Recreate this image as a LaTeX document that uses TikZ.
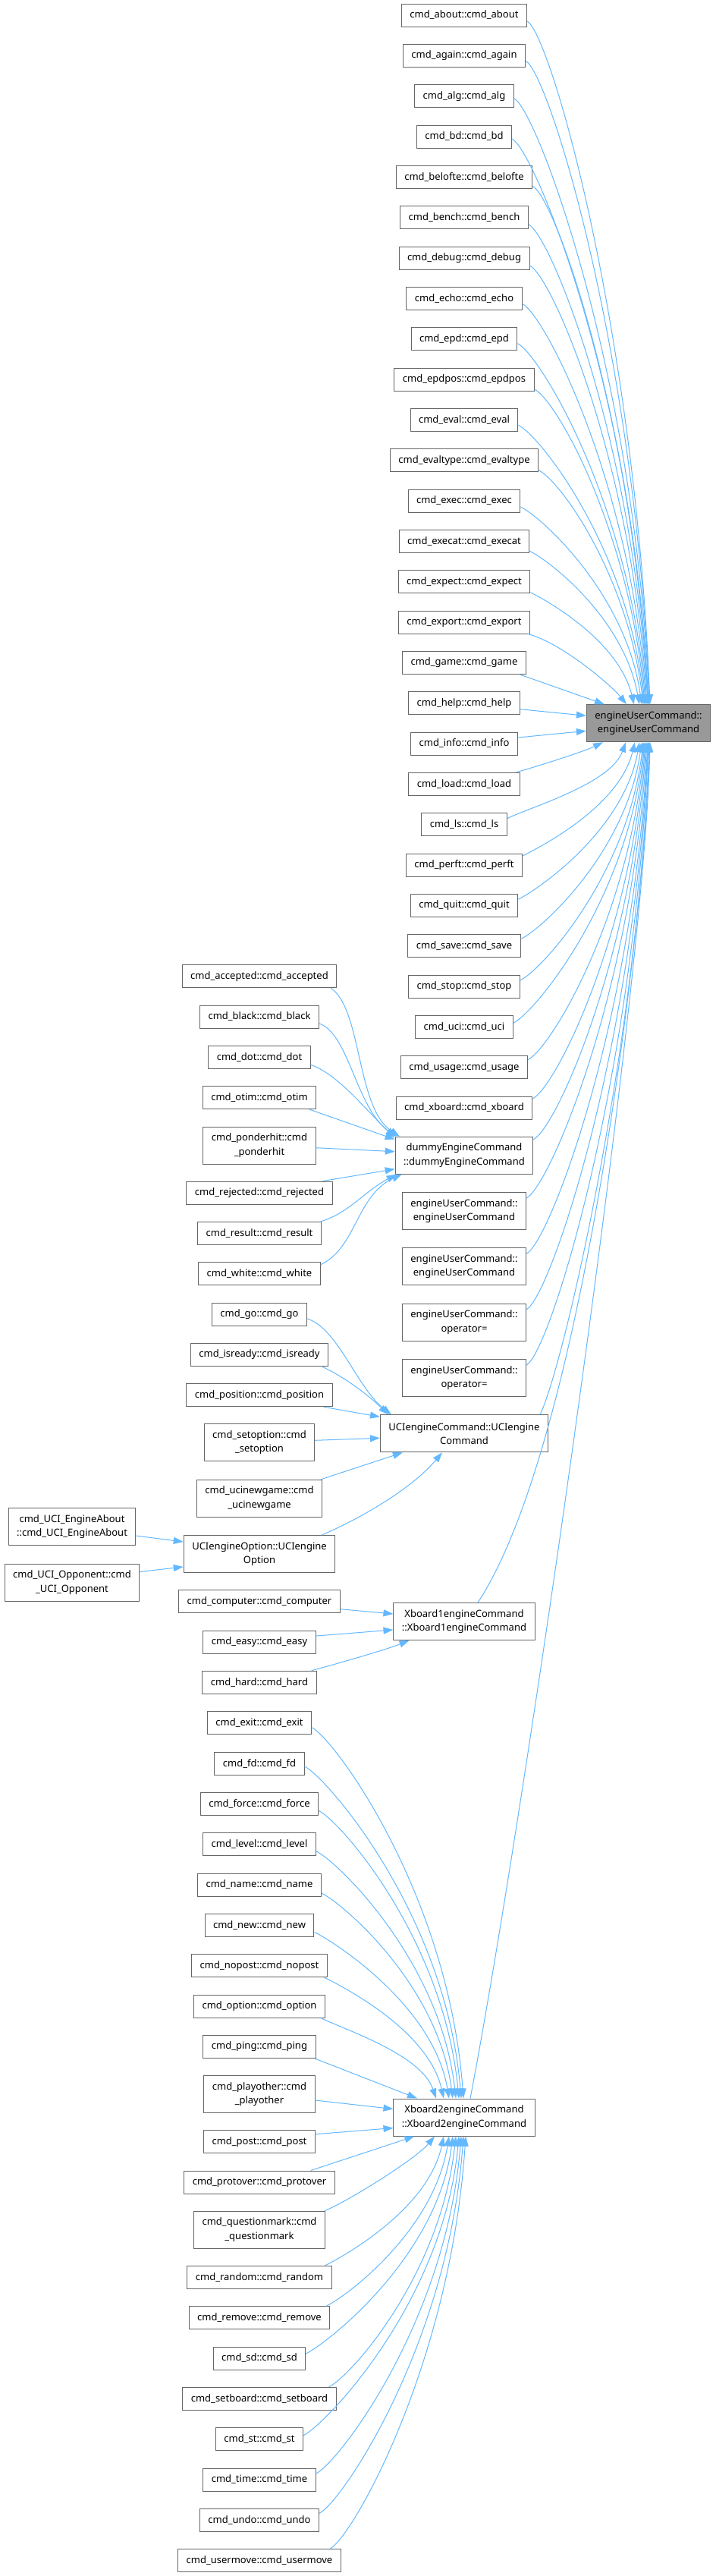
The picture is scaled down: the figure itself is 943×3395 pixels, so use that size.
\documentclass[tikz,border=0pt]{standalone}
\usepackage{fontspec}
\setmainfont{Noto Sans}
\usetikzlibrary{arrows.meta}
\definecolor{cedge}{HTML}{63B8FF}
\definecolor{cborder}{HTML}{666666}
\definecolor{croot}{HTML}{999999}
\tikzset{
  box/.style={draw=cborder, line width=1pt, fill=white, inner xsep=11pt, inner ysep=0pt,
    minimum height=30pt, font=\fontsize{13}{18.3}\selectfont, align=center},
  boxtwo/.style={box, minimum height=49pt},
  rootbox/.style={boxtwo, fill=croot},
  edge/.style={draw=cedge, line width=1pt, -{Triangle[length=13pt,width=9pt]}}
}
\newcommand\EdgeDown[3]{\draw[edge] (#1) .. controls +(30,-15) and +(-20,{0.55*#3}) .. (#2);}
\newcommand\EdgeUp[3]{\draw[edge] (#1) .. controls +(30,15) and +(-20,{-0.55*#3}) .. (#2);}
\begin{document}
\begin{tikzpicture}[x=1pt,y=1pt]
\useasboundingbox (0,0) rectangle (943,-3395);
% root
\node[rootbox] (root) at (855,-953.3) {engineUserCommand::\\engineUserCommand};
% top column
\node[box] (about) at (612,-20) {cmd\_about::cmd\_about};
\node[box] (again) at (612,-73.3) {cmd\_again::cmd\_again};
\node[box] (alg) at (612,-126.7) {cmd\_alg::cmd\_alg};
\node[box] (bd) at (612,-180) {cmd\_bd::cmd\_bd};
\node[box] (belofte) at (612,-233.3) {cmd\_belofte::cmd\_belofte};
\node[box] (bench) at (612,-286.7) {cmd\_bench::cmd\_bench};
\node[box] (debug) at (612,-340) {cmd\_debug::cmd\_debug};
\node[box] (echo) at (612,-393.3) {cmd\_echo::cmd\_echo};
\node[box] (epd) at (612,-446.7) {cmd\_epd::cmd\_epd};
\node[box] (epdpos) at (612,-500) {cmd\_epdpos::cmd\_epdpos};
\node[box] (eval) at (612,-553.3) {cmd\_eval::cmd\_eval};
\node[box] (evaltype) at (612,-606.7) {cmd\_evaltype::cmd\_evaltype};
\node[box] (exec) at (612,-660) {cmd\_exec::cmd\_exec};
\node[box] (execat) at (612,-713.3) {cmd\_execat::cmd\_execat};
\node[box] (expect) at (612,-766.7) {cmd\_expect::cmd\_expect};
\node[box] (export) at (612,-820) {cmd\_export::cmd\_export};
\node[box] (game) at (612,-873.3) {cmd\_game::cmd\_game};
\node[box] (help) at (612,-926.7) {cmd\_help::cmd\_help};
\node[box] (info) at (612,-980) {cmd\_info::cmd\_info};
\node[box] (load) at (612,-1033.3) {cmd\_load::cmd\_load};
\node[box] (ls) at (612,-1086.7) {cmd\_ls::cmd\_ls};
\node[box] (perft) at (612,-1140) {cmd\_perft::cmd\_perft};
\node[box] (quit) at (612,-1193.3) {cmd\_quit::cmd\_quit};
\node[box] (save) at (612,-1246.7) {cmd\_save::cmd\_save};
\node[box] (stop) at (612,-1300) {cmd\_stop::cmd\_stop};
\node[box] (uci) at (612,-1353.3) {cmd\_uci::cmd\_uci};
\node[box] (usage) at (612,-1406.7) {cmd\_usage::cmd\_usage};
\node[box] (xboard) at (612,-1460) {cmd\_xboard::cmd\_xboard};
\node[boxtwo] (dummy) at (612,-1522.7) {dummyEngineCommand\\::dummyEngineCommand};
\node[boxtwo] (eutwo) at (612,-1596) {engineUserCommand::\\engineUserCommand};
\node[boxtwo] (euthree) at (612,-1669.3) {engineUserCommand::\\engineUserCommand};
\node[boxtwo] (opone) at (612,-1742.7) {engineUserCommand::\\operator=};
\node[boxtwo] (optwo) at (612,-1816) {engineUserCommand::\\operator=};
\node[boxtwo] (ucicmd) at (612,-1889.3) {UCIengineCommand::UCIengine\\Command};
\node[boxtwo] (xbone) at (612,-2137) {Xboard1engineCommand\\::Xboard1engineCommand};
\node[boxtwo] (xbtwo) at (612,-2790.5) {Xboard2engineCommand\\::Xboard2engineCommand};
% left column
\node[box] (accepted) at (342,-1286.7) {cmd\_accepted::cmd\_accepted};
\node[box] (black) at (342,-1340) {cmd\_black::cmd\_black};
\node[box] (dot) at (342,-1393.3) {cmd\_dot::cmd\_dot};
\node[box] (otim) at (342,-1446.7) {cmd\_otim::cmd\_otim};
\node[boxtwo] (ponderhit) at (342,-1509.7) {cmd\_ponderhit::cmd\\\_ponderhit};
\node[box] (rejected) at (342,-1572) {cmd\_rejected::cmd\_rejected};
\node[box] (result) at (342,-1625.3) {cmd\_result::cmd\_result};
\node[box] (white) at (342,-1678.7) {cmd\_white::cmd\_white};
\node[box] (go) at (342,-1732) {cmd\_go::cmd\_go};
\node[box] (isready) at (342,-1785.3) {cmd\_isready::cmd\_isready};
\node[box] (position) at (342,-1838.7) {cmd\_position::cmd\_position};
\node[boxtwo] (setoption) at (342,-1901.3) {cmd\_setoption::cmd\\\_setoption};
\node[boxtwo] (ucinewgame) at (342,-1974.7) {cmd\_ucinewgame::cmd\\\_ucinewgame};
\node[boxtwo] (uciopt) at (342,-2048) {UCIengineOption::UCIengine\\Option};
\node[box] (computer) at (342,-2110.7) {cmd\_computer::cmd\_computer};
\node[box] (easy) at (342,-2164) {cmd\_easy::cmd\_easy};
\node[box] (hard) at (342,-2217.3) {cmd\_hard::cmd\_hard};
\node[box] (exit) at (342,-2270.7) {cmd\_exit::cmd\_exit};
\node[box] (fd) at (342,-2324) {cmd\_fd::cmd\_fd};
\node[box] (force) at (342,-2377.3) {cmd\_force::cmd\_force};
\node[box] (level) at (342,-2430.7) {cmd\_level::cmd\_level};
\node[box] (name) at (342,-2484) {cmd\_name::cmd\_name};
\node[box] (new) at (342,-2537.3) {cmd\_new::cmd\_new};
\node[box] (nopost) at (342,-2590.7) {cmd\_nopost::cmd\_nopost};
\node[box] (option) at (342,-2644) {cmd\_option::cmd\_option};
\node[box] (ping) at (342,-2697.3) {cmd\_ping::cmd\_ping};
\node[boxtwo] (playother) at (342,-2760) {cmd\_playother::cmd\\\_playother};
\node[box] (post) at (342,-2822.7) {cmd\_post::cmd\_post};
\node[box] (protover) at (342,-2876) {cmd\_protover::cmd\_protover};
\node[boxtwo] (qmark) at (342,-2938.7) {cmd\_questionmark::cmd\\\_questionmark};
\node[box] (random) at (342,-3001.3) {cmd\_random::cmd\_random};
\node[box] (remove) at (342,-3054.7) {cmd\_remove::cmd\_remove};
\node[box] (sd) at (342,-3108) {cmd\_sd::cmd\_sd};
\node[box] (setboard) at (342,-3161.3) {cmd\_setboard::cmd\_setboard};
\node[box] (st) at (342,-3214.7) {cmd\_st::cmd\_st};
\node[box] (time) at (342,-3268) {cmd\_time::cmd\_time};
\node[box] (undo) at (342,-3321.3) {cmd\_undo::cmd\_undo};
\node[box] (usermove) at (342,-3374.7) {cmd\_usermove::cmd\_usermove};
% far left
\node[boxtwo] (ucia) at (95,-2012) {cmd\_UCI\_EngineAbout\\::cmd\_UCI\_EngineAbout};
\node[boxtwo] (ucio) at (95,-2085.5) {cmd\_UCI\_Opponent::cmd\\\_UCI\_Opponent};

% edges into root from above
\EdgeDown{[yshift=-8]about.east}{[xshift=2]root.north}{901}
\EdgeDown{[yshift=-7]again.east}{[xshift=1.5]root.north}{849}
\EdgeDown{[yshift=-3]alg.east}{[xshift=1]root.north}{799}
\EdgeDown{[yshift=-3]bd.east}{[xshift=0]root.north}{746}
\EdgeDown{[yshift=-12]belofte.east}{[xshift=-0.5]root.north}{683}
\EdgeDown{[yshift=-9]bench.east}{[xshift=-1]root.north}{633}
\EdgeDown{[yshift=-10]debug.east}{[xshift=-2]root.north}{579}
\EdgeDown{[yshift=-7]echo.east}{[xshift=-3]root.north}{529}
\EdgeDown{[yshift=-6]epd.east}{[xshift=-4]root.north}{476}
\EdgeDown{[yshift=-13]epdpos.east}{[xshift=-5]root.north}{415}
\EdgeDown{[yshift=-7]eval.east}{[xshift=-6]root.north}{369}
\EdgeDown{[yshift=-13]evaltype.east}{[xshift=-7]root.north}{306}
\EdgeDown{[yshift=-8]exec.east}{[xshift=-9]root.north}{261}
\EdgeDown{[yshift=-13]execat.east}{[xshift=-12]root.north}{202}
\EdgeDown{[yshift=-14]expect.east}{[xshift=-19]root.north}{147}
\draw[edge] ([xshift=-3]export.south east) .. controls +(45,-12) and +(-20,25) .. ([xshift=-29]root.north);
\draw[edge] ([xshift=-9]game.south east) -- ([xshift=-58]root.north);
\draw[edge] ([yshift=-8]help.east) -- ([yshift=10]root.west);
\draw[edge] ([yshift=8]info.east) -- ([yshift=-10]root.west);
% edges into root from below
\draw[edge] ([xshift=-5]load.north east) .. controls +(35,10) and +(-25,-12) .. ([xshift=-60]root.south);
\EdgeUp{[yshift=8]ls.east}{[xshift=-30]root.south}{100}
\EdgeUp{[yshift=12]perft.east}{[xshift=-18]root.south}{150}
\EdgeUp{[yshift=8]quit.east}{[xshift=-12]root.south}{207}
\EdgeUp{[yshift=9]save.east}{[xshift=-9]root.south}{260}
\EdgeUp{[yshift=8]stop.east}{[xshift=-7]root.south}{314}
\EdgeUp{[yshift=5]uci.east}{[xshift=-6]root.south}{370}
\EdgeUp{[yshift=10]usage.east}{[xshift=-5]root.south}{419}
\EdgeUp{[yshift=12]xboard.east}{[xshift=-4]root.south}{469}
\EdgeUp{[yshift=21]dummy.east}{[xshift=-3]root.south}{524}
\EdgeUp{[yshift=17]eutwo.east}{[xshift=-2]root.south}{601}
\EdgeUp{[yshift=17]euthree.east}{[xshift=-1]root.south}{674}
\EdgeUp{[yshift=17]opone.east}{[xshift=-0.5]root.south}{748}
\EdgeUp{[yshift=17]optwo.east}{[xshift=0]root.south}{821}
\draw[edge] ([xshift=100]ucicmd.north) .. controls +(30,60) and +(-15,-400) .. ([xshift=1]root.south);
\draw[edge] ([xshift=18]xbone.north) .. controls +(140,212) and +(-6,-222) .. ([xshift=1.5]root.south);
\draw[edge] ([xshift=8]xbtwo.north) .. controls +(70,366) and +(-7,-322) .. ([xshift=2]root.south);
% dummy group
\draw[edge] ([xshift=-8]accepted.south east) .. controls +(41,-28) and +(-57,38) .. ([xshift=6]dummy.north west);
\draw[edge] ([yshift=-9]black.east) .. controls +(39,-13) and +(-53,37) .. ([xshift=2]dummy.north west);
\draw[edge] ([yshift=-10]dot.east) .. controls +(35,-12) and +(-41,40) .. ([yshift=-2]dummy.north west);
\draw[edge] ([xshift=-9]otim.south east) -- ([yshift=-4]dummy.north west);
\draw[edge] ([yshift=-3]ponderhit.east) -- ([yshift=5]dummy.west);
\draw[edge] ([xshift=-13]rejected.north east) -- ([yshift=-18]dummy.west);
\draw[edge] ([xshift=-1]result.north east) .. controls +(37,11) and +(-43,-23) .. ([xshift=2]dummy.south west);
\draw[edge] ([yshift=12]white.east) .. controls +(47,22) and +(-60,-28) .. ([xshift=9]dummy.south west);
% UCI group
\draw[edge] ([yshift=-6]go.east) .. controls +(40,-12) and +(-45,35) .. ([xshift=15]ucicmd.north west);
\draw[edge] ([xshift=-9]isready.south east) .. controls +(26,-12) and +(-31,30) .. ([xshift=11]ucicmd.north west);
\draw[edge] ([xshift=-12]position.south east) -- ([yshift=-3]ucicmd.north west);
\draw[edge] ([yshift=3]setoption.east) -- ([yshift=-6]ucicmd.west);
\draw[edge] ([xshift=-2]ucinewgame.north east) -- ([xshift=30]ucicmd.south west);
\draw[edge] ([xshift=-18]uciopt.north east) .. controls +(45,19) and +(-42,-50) .. ([xshift=82]ucicmd.south west);
\draw[edge] ([yshift=-12]ucia.east) -- ([yshift=16]uciopt.west);
\draw[edge] ([yshift=14]ucio.east) -- ([yshift=-17]uciopt.west);
% Xboard1 group
\draw[edge] ([yshift=-10]computer.east) -- ([yshift=10]xbone.west);
\draw[edge] ([yshift=8]easy.east) -- ([yshift=-11]xbone.west);
\draw[edge] ([xshift=-7]hard.north east) .. controls +(30,8) and +(-30,-12) .. ([xshift=21]xbone.south west);
% Xboard2 group
\EdgeDown{[yshift=-6]exit.east}{[xshift=-1]xbtwo.north}{489}
\EdgeDown{[yshift=-4]fd.east}{[xshift=-4]xbtwo.north}{438}
\EdgeDown{[yshift=-9]force.east}{[xshift=-7]xbtwo.north}{379}
\EdgeDown{[yshift=-9]level.east}{[xshift=-11]xbtwo.north}{326}
\EdgeDown{[yshift=-11]name.east}{[xshift=-15]xbtwo.north}{271}
\EdgeDown{[yshift=-9]new.east}{[xshift=-20]xbtwo.north}{219}
\EdgeDown{[xshift=-4]nopost.south east}{[xshift=-27]xbtwo.north}{160}
\EdgeDown{[xshift=-6]option.south east}{[xshift=-37]xbtwo.north}{106}
\draw[edge] ([xshift=-2]ping.south east) -- ([xshift=-62]xbtwo.north);
\draw[edge] ([yshift=-8]playother.east) -- ([yshift=11]xbtwo.west);
\draw[edge] ([yshift=10]post.east) -- ([yshift=-14]xbtwo.west);
\draw[edge] ([xshift=-32]protover.north east) -- ([xshift=28]xbtwo.south west);
\draw[edge] ([xshift=-1]qmark.north east) .. controls +(30,12) and +(-25,-30) .. ([xshift=-39]xbtwo.south);
\EdgeUp{[xshift=-9]random.north east}{[xshift=-27]xbtwo.south}{171}
\EdgeUp{[xshift=-5]remove.north east}{[xshift=-20]xbtwo.south}{224}
\EdgeUp{[yshift=6]sd.east}{[xshift=-15]xbtwo.south}{287}
\EdgeUp{[xshift=-10]setboard.north east}{[xshift=-11]xbtwo.south}{331}
\EdgeUp{[yshift=5]st.east}{[xshift=-7]xbtwo.south}{395}
\EdgeUp{[yshift=8]time.east}{[xshift=-4]xbtwo.south}{445}
\EdgeUp{[yshift=9]undo.east}{[xshift=-1]xbtwo.south}{497}
\EdgeUp{[xshift=-15]usermove.north east}{[xshift=2]xbtwo.south}{544}
\end{tikzpicture}
\end{document}
